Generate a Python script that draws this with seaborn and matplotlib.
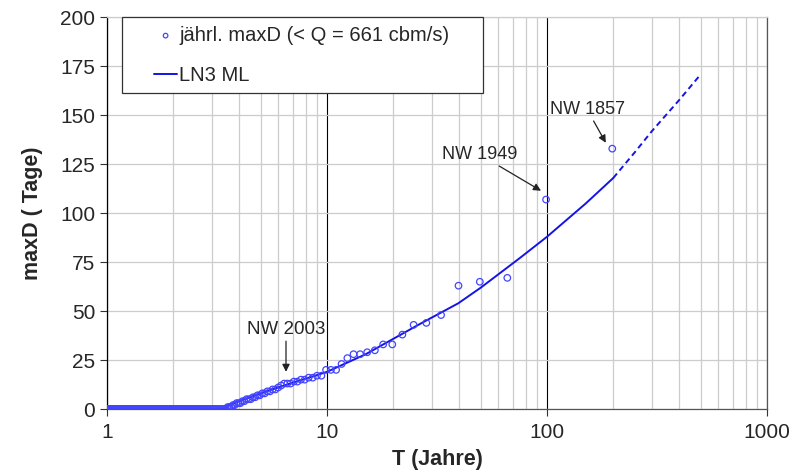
import numpy as np
import pandas as pd
import seaborn as sns
import matplotlib.pyplot as plt
from matplotlib.patches import Rectangle

# annual maxima sorted by rank, plotted with T = 198 / rank
n_plus_1 = 198
maxd_top = [133, 107, 67, 65, 63, 48, 44, 43, 38, 33, 33, 30, 29, 28, 28, 26, 23, 20, 20, 20, 17,
            17, 16, 16, 15, 15, 14, 14, 13, 13, 13, 12, 11, 10, 10, 9, 9, 8, 8, 7, 7,
            6, 6, 5, 5, 5, 4, 4, 3, 3, 3, 2, 2, 1, 1, 1]
n_zero = 141

# fitted LN3 ML curve (solid part, then extrapolated dashed part)
fit_T = [1, 2, 3.0, 3.37, 3.6, 4, 5, 6, 7, 8, 10, 15, 18.7, 26.5, 39.5, 50, 75, 100, 150, 200]
fit_D = [0, 0, 0, 0, 2, 4, 8, 11, 13.5, 15.5, 19, 28, 34, 43.5, 54, 62, 77, 88, 105, 118]
ext_T = [200, 250, 300, 400, 500]
ext_D = [118, 131, 142, 158, 171]

maxd = maxd_top + [0] * n_zero
rank = np.arange(1, len(maxd) + 1)
obs = pd.DataFrame({'T': n_plus_1 / rank, 'maxD': maxd})
fit = pd.DataFrame({'T': fit_T, 'maxD': fit_D})
ext = pd.DataFrame({'T': ext_T, 'maxD': ext_D})

sns.set_style('white')
plt.rcParams['font.family'] = ['Liberation Sans', 'DejaVu Sans']

fig = plt.figure(figsize=(7.95, 4.74), dpi=100)
ax = fig.add_axes([0.1346, 0.1371, 0.8302, 0.8260])

line_col = '#1414e6'
sns.lineplot(data=fit, x='T', y='maxD', ax=ax, color=line_col, lw=1.4, label='LN3 ML', zorder=3)
sns.lineplot(data=ext, x='T', y='maxD', ax=ax, color=line_col, lw=1.4, dashes=False,
             linestyle=(0, (3, 2)), zorder=3)
sns.scatterplot(data=obs, x='T', y='maxD', ax=ax, marker='o', s=22, facecolors='none',
                edgecolor='#4444ff', linewidth=0.9, label='jährl. maxD (< Q = 661 cbm/s)', zorder=4)

ax.set_xscale('log')
ax.set_xlim(1, 1000)
ax.set_ylim(0, 200)
ax.set_yticks(range(0, 201, 25))
ax.set_xticks([1, 10, 100, 1000])
ax.set_xticklabels(['1', '10', '100', '1000'])
ax.tick_params(axis='both', which='major', labelsize=15, length=5, width=0.8, color='#333333',
               direction='out', bottom=True, left=True)
ax.tick_params(axis='x', which='minor', length=0)
ax.tick_params(axis='x', pad=5)

ax.grid(which='minor', axis='x', color='#cccccc', lw=0.9)
ax.grid(which='major', axis='x', color='black', lw=0.8)
ax.grid(which='major', axis='y', color='#cccccc', lw=0.9)
ax.set_axisbelow(True)

ax.spines['top'].set_color('#cccccc')
ax.spines['right'].set_color('#555555')
ax.spines['left'].set_color('black')
ax.spines['bottom'].set_color('#555555')
for s in ax.spines.values():
    s.set_linewidth(0.9)

ax.set_xlabel('T (Jahre)', fontsize=15.5, fontweight='bold', labelpad=5)
ax.set_ylabel('maxD ( Tage)', fontsize=15.5, fontweight='bold', labelpad=12)

arrow = dict(arrowstyle='-|>', color='#222222', lw=0.9, mutation_scale=11, shrinkA=0, shrinkB=0)
ax.annotate('NW 2003', xy=(6.51, 19), xytext=(6.51, 36.3), fontsize=13.5, ha='center', va='bottom',
            arrowprops=arrow)
ax.annotate('NW 1949', xy=(93.9, 111.5), xytext=(73, 125.8), fontsize=13, ha='right', va='bottom',
            arrowprops=arrow)
ax.annotate('NW 1857', xy=(185, 136), xytext=(152, 148.8), fontsize=13, ha='center', va='bottom',
            arrowprops=arrow)

# legend box drawn separately so it can be wider than its content
ax.add_patch(Rectangle((0.0227, 0.808), 0.547, 0.193, transform=ax.transAxes, facecolor='white',
                       edgecolor='#333333', lw=0.9, zorder=5, clip_on=False))
handles, labels = ax.get_legend_handles_labels()
order = [labels.index('jährl. maxD (< Q = 661 cbm/s)'), labels.index('LN3 ML')]
leg = ax.legend([handles[i] for i in order], [labels[i] for i in order],
                loc='center left', bbox_to_anchor=(0.0712, 0.903), fontsize=14.5, frameon=False,
                borderpad=0, labelspacing=1.05, handlelength=1.15, handletextpad=0.1,
                markerscale=0.7, borderaxespad=0)
leg.set_zorder(6)

fig.savefig('out.png', dpi=100)
